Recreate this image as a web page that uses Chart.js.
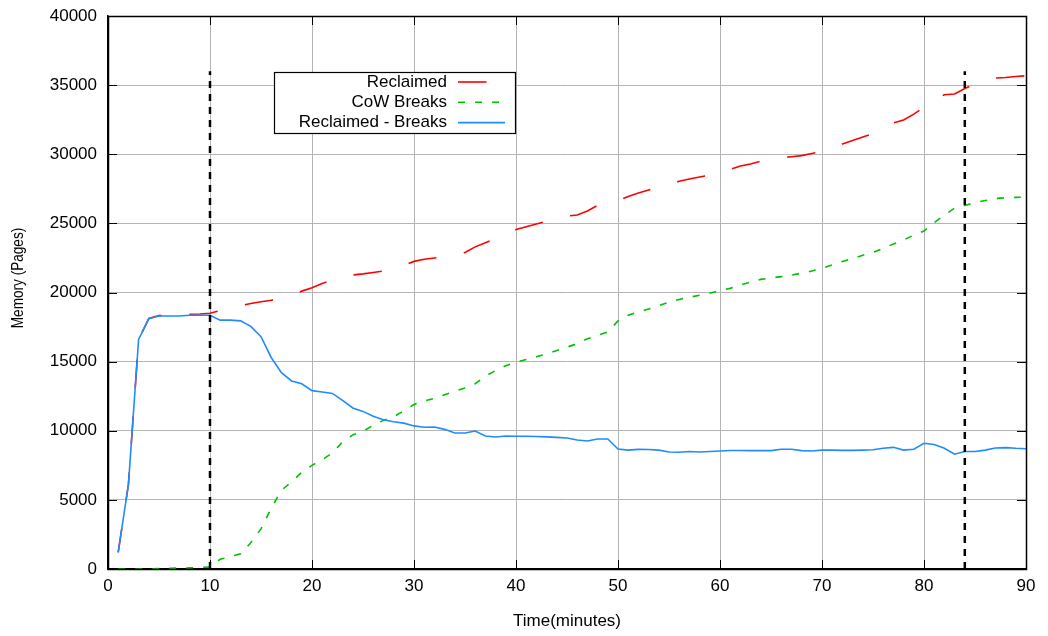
<!DOCTYPE html>
<html><head><meta charset="utf-8">
<script src="https://cdn.jsdelivr.net/npm/chart.js@4/dist/chart.umd.min.js"></script>
<style>html,body{margin:0;padding:0;background:#fff}canvas{display:block}</style>
</head><body>
<canvas id="c" width="1048" height="636"></canvas>
<script>
// ---- data (minutes since start) ----
const minutes = [1,2,3,4,5,6,7,8,9,10,11,12,13,14,15,16,17,18,19,20,21,22,23,24,25,26,27,28,29,30,
  31,32,33,34,35,36,37,38,39,40,41,42,43,44,45,46,47,48,49,50,51,52,53,54,55,56,57,58,59,60,
  61,62,63,64,65,66,67,68,69,70,71,72,73,74,75,76,77,78,79,80,81,82,83,84,85,86,87,88,89,90];

const reclaimedPages = [1200,6100,16600,18120,18330,18350,18370,18430,18450,18500,
  18700,18900,19050,19200,19330,19440,19600,19800,20100,20350,
  20650,20900,21100,21270,21350,21450,21550,21700,21950,22250,
  22400,22500,22550,22650,22900,23300,23600,23900,24200,24550,
  24750,24950,25150,25350,25530,25600,25900,26300,26450,26650,
  26950,27200,27410,27600,27800,28050,28210,28350,28500,28650,
  28900,29150,29300,29500,29650,29750,29820,29900,30050,30200,
  30450,30740,31000,31250,31500,31800,32260,32480,32900,33400,
  34000,34300,34360,34750,35100,35350,35510,35550,35620,35680];

const cowBreakPages = [0,0,0,20,30,50,70,80,100,150,
  700,900,1100,1900,2900,4400,5700,6300,7000,7500,
  7900,8400,9200,9700,9950,10400,10750,11000,11450,11900,
  12150,12350,12600,12850,13100,13400,13950,14350,14700,14950,
  15150,15350,15550,15800,16050,16300,16650,16900,17150,17950,
  18350,18600,18800,19050,19300,19500,19650,19800,19950,20150,
  20300,20550,20750,20950,21050,21150,21250,21400,21550,21750,
  22000,22250,22450,22700,22900,23200,23500,23800,24150,24450,
  25050,25600,26100,26300,26500,26650,26800,26850,26880,26900];

const diffPages = [1200,6100,16600,18100,18300,18300,18300,18350,18350,18350,
  18000,18000,17950,17550,16800,15300,14200,13600,13400,12900,
  12800,12700,12200,11650,11400,11050,10800,10650,10550,10350,
  10250,10270,10100,9840,9840,9980,9620,9550,9620,9600,
  9600,9580,9560,9520,9480,9330,9260,9400,9400,8680,
  8600,8650,8640,8600,8460,8450,8500,8460,8500,8530,
  8570,8570,8560,8560,8560,8660,8660,8560,8530,8600,
  8600,8580,8580,8600,8630,8730,8800,8600,8660,9090,
  9000,8730,8300,8500,8500,8600,8750,8780,8730,8700];

const markerTimes = [10, 84];
const markerRange = [0, 36000];

const xTicks = [0,10,20,30,40,50,60,70,80,90];
const yTicks = [0,5000,10000,15000,20000,25000,30000,35000,40000];

const seriesLabels = ['Reclaimed', 'CoW Breaks', 'Reclaimed - Breaks'];
const xTitle = 'Time(minutes)';
const yTitle = 'Memory (Pages)';

// ---- chart ----
const FONT = "'Liberation Sans', Arial, sans-serif";
Chart.defaults.font.family = FONT;
Chart.defaults.font.size = 17;
Chart.defaults.color = '#000';

const toXY = vals => minutes.map((m, i) => ({x: m, y: vals[i]}));

const styles = {
  'Reclaimed': {color: '#ff0000', width: 1.6, dash: [28.5, 28], offset: 4, order: 3},
  'CoW Breaks': {color: '#00c000', width: 1.6, dash: [7, 10], offset: 0, order: 2},
  'Reclaimed - Breaks': {color: '#1e8cff', width: 1.6, dash: [], offset: 0, order: 1}
};
const seriesData = {
  'Reclaimed': reclaimedPages,
  'CoW Breaks': cowBreakPages,
  'Reclaimed - Breaks': diffPages
};

const datasets = seriesLabels.map(lbl => ({
  label: lbl,
  data: toXY(seriesData[lbl]),
  borderColor: styles[lbl].color,
  borderWidth: styles[lbl].width,
  borderDash: styles[lbl].dash,
  borderDashOffset: styles[lbl].offset,
  order: styles[lbl].order,
  pointRadius: 0,
  tension: 0,
  fill: false
}));
markerTimes.forEach(t => datasets.push({
  label: 'marker',
  data: markerRange.map(v => ({x: t, y: v})),
  borderColor: '#000',
  borderWidth: 2.5,
  borderDash: [7, 6],
  order: 0,
  pointRadius: 0,
  fill: false
}));

const framePlugin = {
  id: 'frame',
  afterDatasetsDraw(chart) {
    const {ctx, chartArea: a, scales} = chart;
    ctx.save();
    ctx.strokeStyle = '#000';
    ctx.lineWidth = 1;
    ctx.beginPath();
    const tl = 9;
    xTicks.forEach(v => {
      const px = Math.round(scales.x.getPixelForValue(v)) + 0.5;
      ctx.moveTo(px, a.bottom); ctx.lineTo(px, a.bottom - tl);
      ctx.moveTo(px, a.top); ctx.lineTo(px, a.top + tl);
    });
    yTicks.forEach(v => {
      const py = Math.round(scales.y.getPixelForValue(v)) + 0.5;
      ctx.moveTo(a.left, py); ctx.lineTo(a.left + tl, py);
      ctx.moveTo(a.right, py); ctx.lineTo(a.right - tl, py);
    });
    ctx.stroke();
    ctx.lineWidth = 1.5;
    ctx.strokeRect(Math.round(a.left) + 0.5, Math.round(a.top) + 0.5,
                   Math.round(a.right - a.left), Math.round(a.bottom - a.top));
    ctx.restore();
  },
  afterDraw(chart) {
    const {ctx, chartArea: a} = chart;
    ctx.save();
    // y-axis title (slightly condensed like the original)
    ctx.save();
    ctx.translate(a.left - 90, a.top + 262);
    ctx.rotate(-Math.PI / 2);
    ctx.scale(0.8, 1);
    ctx.font = '17px ' + FONT;
    ctx.fillStyle = '#000';
    ctx.textAlign = 'center';
    ctx.textBaseline = 'middle';
    ctx.fillText(yTitle, 0, 0);
    ctx.restore();
    // legend
    const bx = a.left + 166, by = a.top + 56, bw = 241, bh = 61;
    ctx.fillStyle = '#fff';
    ctx.fillRect(bx, by, bw, bh);
    ctx.strokeStyle = '#000';
    ctx.lineWidth = 1.2;
    ctx.strokeRect(bx + 0.5, by + 0.5, bw, bh);
    ctx.font = '17px ' + FONT;
    ctx.textAlign = 'right';
    ctx.textBaseline = 'middle';
    seriesLabels.forEach((lbl, i) => {
      const y = by + 10 + i * 20.3;
      ctx.fillStyle = '#000';
      ctx.fillText(lbl, bx + 173, y);
      ctx.beginPath();
      ctx.strokeStyle = styles[lbl].color;
      ctx.lineWidth = styles[lbl].width;
      ctx.setLineDash(styles[lbl].dash);
      ctx.moveTo(bx + 184, y); ctx.lineTo(bx + 231, y);
      ctx.stroke();
      ctx.setLineDash([]);
    });
    ctx.restore();
  }
};

new Chart(document.getElementById('c'), {
  type: 'line',
  data: {datasets},
  options: {
    responsive: false,
    animation: false,
    events: [],
    layout: {padding: {left: 0, right: 22, top: 16, bottom: 0}},
    plugins: {legend: {display: false}, tooltip: {enabled: false}},
    scales: {
      x: {
        type: 'linear', min: 0, max: 90,
        afterBuildTicks: s => { s.ticks = xTicks.map(v => ({value: v})); },
        ticks: {padding: 7, maxRotation: 0, font: {size: 17}},
        grid: {color: '#b4b4b4', lineWidth: 1, drawTicks: false},
        border: {display: true, color: '#000', width: 1.5},
        title: {display: true, text: xTitle, font: {size: 17}, padding: {top: 0, bottom: 4}},
        afterFit: s => { s.height = 67; s.paddingLeft = 0; s.paddingRight = 0; }
      },
      y: {
        type: 'linear', min: 0, max: 40000,
        afterBuildTicks: s => { s.ticks = yTicks.map(v => ({value: v})); },
        ticks: {padding: 11, font: {size: 17}, callback: v => String(v)},
        grid: {color: '#b4b4b4', lineWidth: 1, drawTicks: false},
        border: {display: true, color: '#000', width: 1.5},
        title: {display: false},
        afterFit: s => { s.width = 108; s.paddingTop = 0; s.paddingBottom = 0; }
      }
    }
  },
  plugins: [framePlugin]
});
</script>
</body></html>
